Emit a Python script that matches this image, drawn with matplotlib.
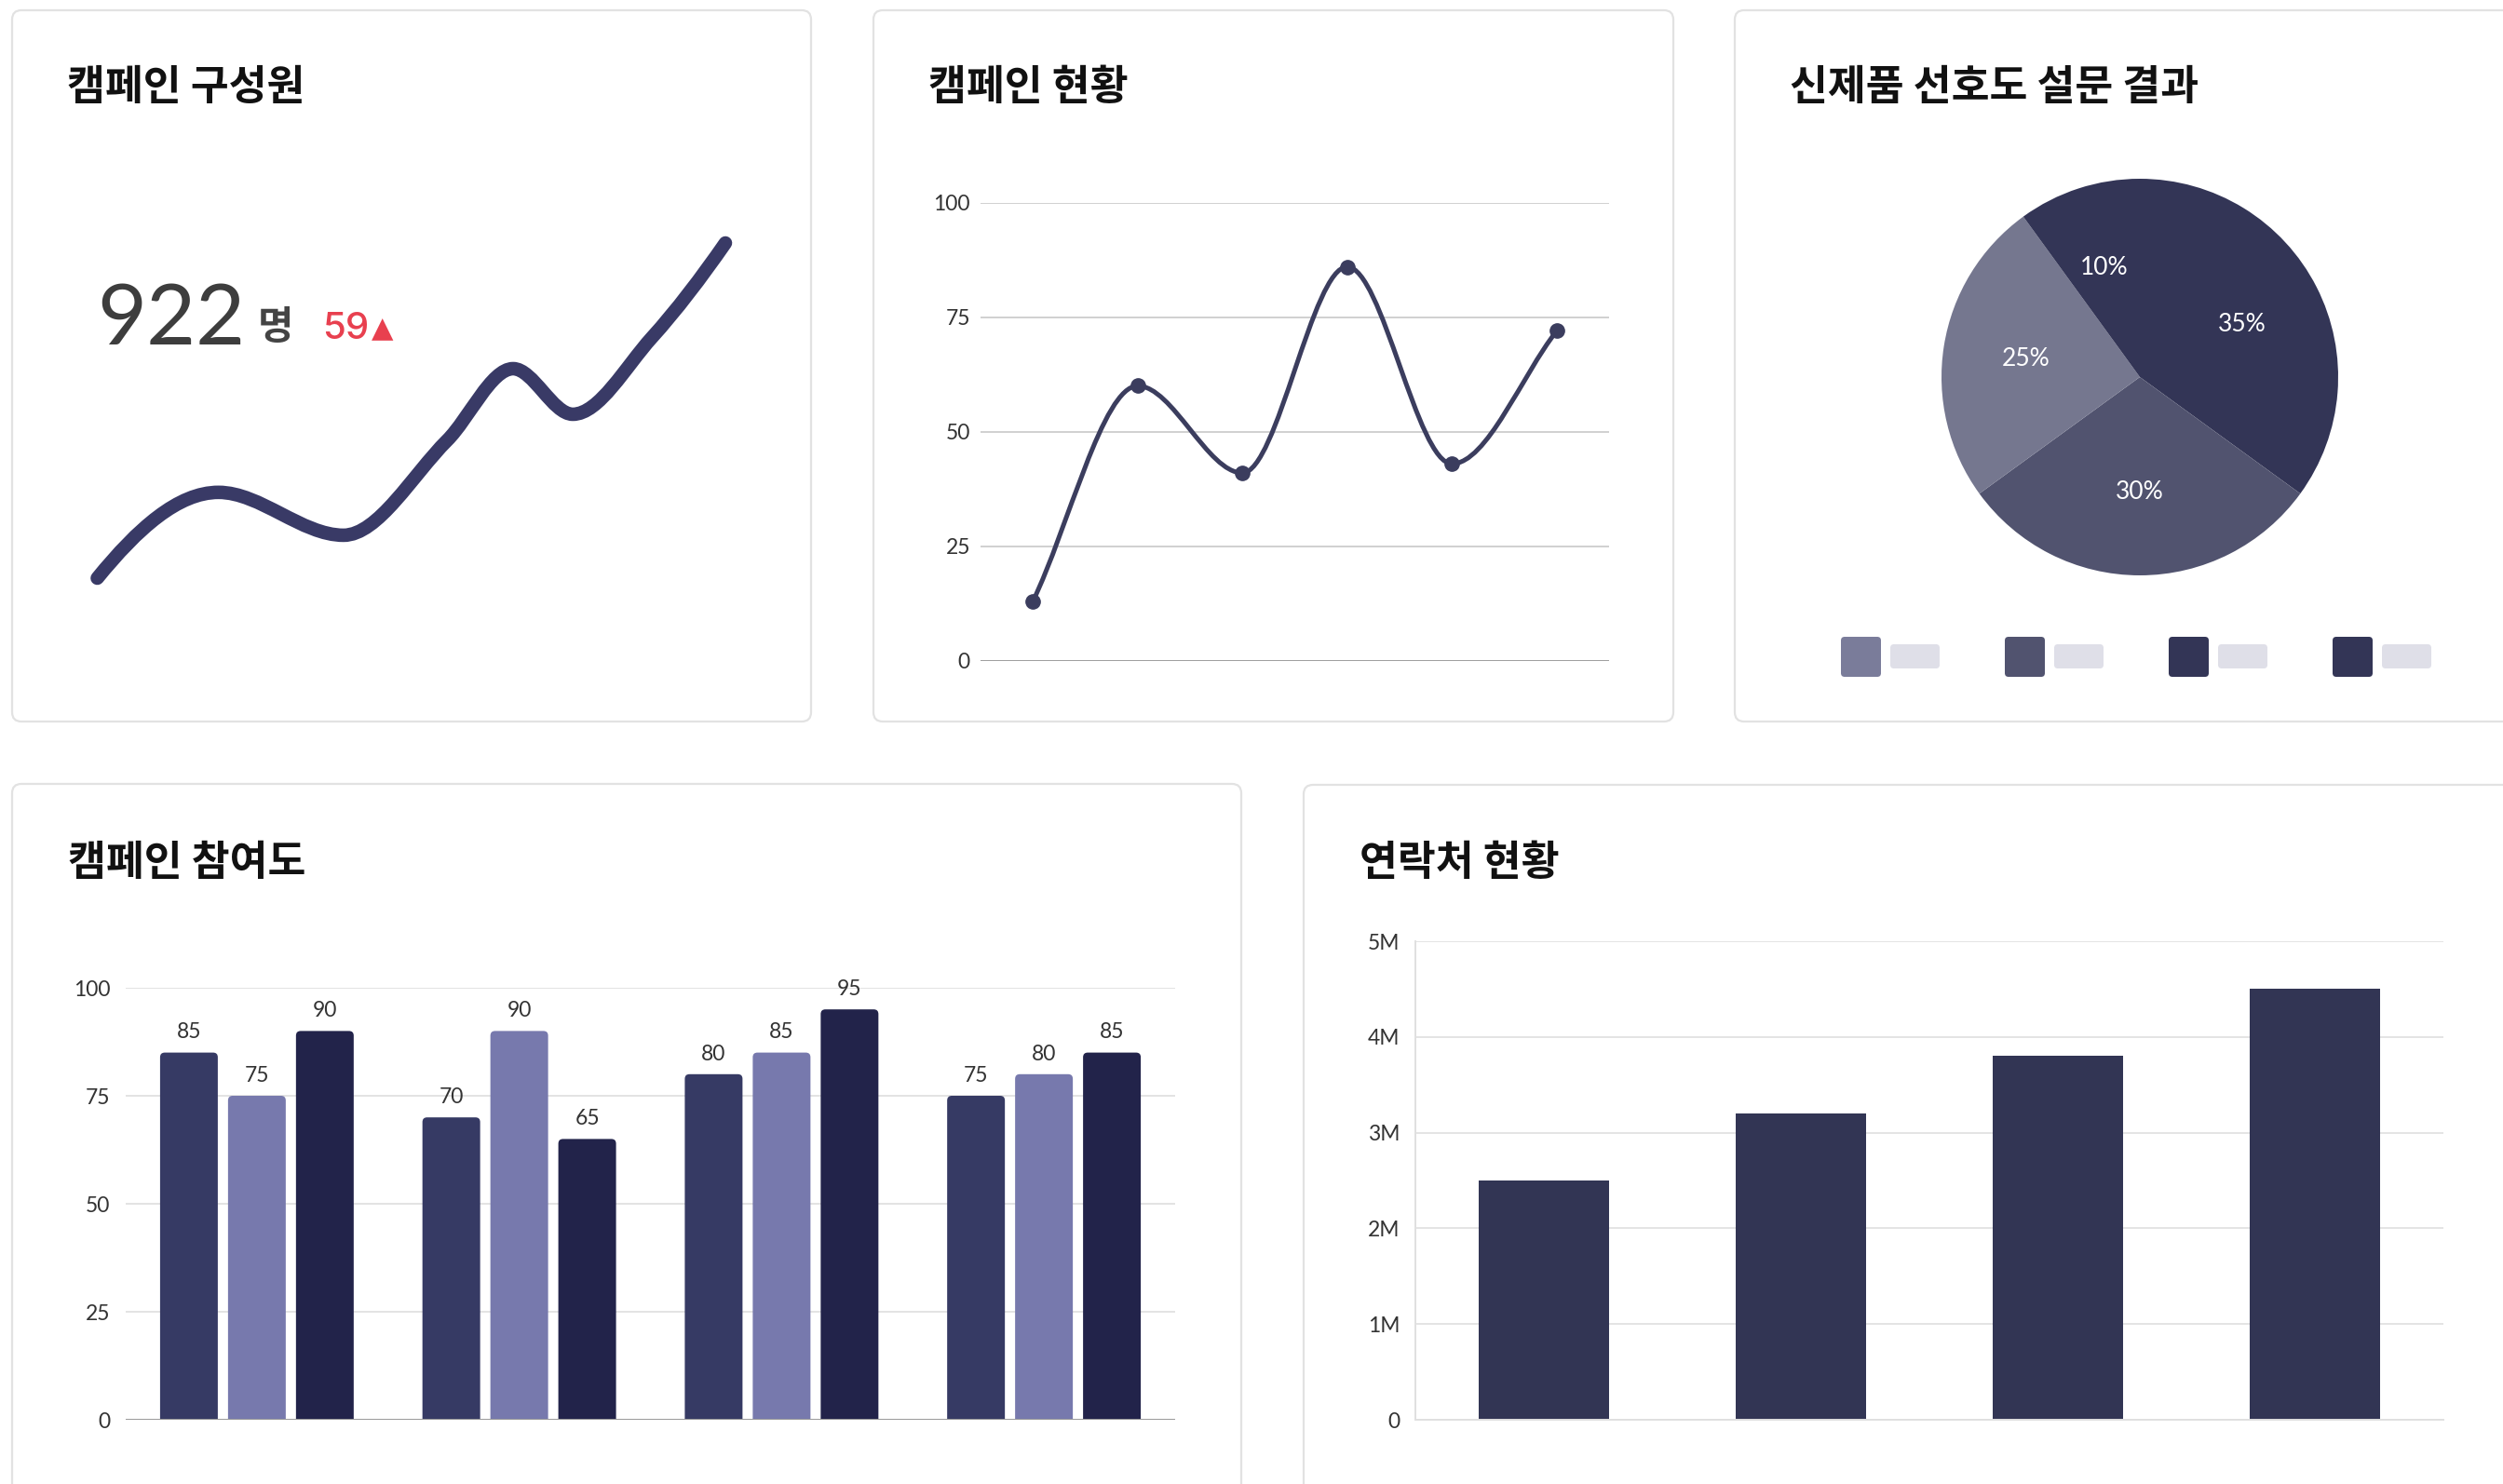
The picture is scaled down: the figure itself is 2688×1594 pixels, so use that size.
import numpy as np
import matplotlib
matplotlib.use("Agg")
import matplotlib.pyplot as plt
from matplotlib.patches import FancyBboxPatch, PathPatch
from matplotlib.path import Path

# ---------------- data ----------------
member_total = 922
member_delta = 59
member_trend_x = [0, 19.3, 39.2, 55.7, 66.2, 75.7, 88.3, 100]
member_trend_y = [0, 25.6, 12.8, 41.1, 62.5, 48.9, 71.8, 100]

status_values = [13, 60, 41, 86, 43, 72]
status_ticks = [0, 25, 50, 75, 100]

survey_shares = [35, 30, 25, 10]
survey_colors = ["#333556", "#51536f", "#75778f", "#333556"]
legend_colors = ["#7a7c9a", "#51536f", "#333556", "#333556"]

participation_series = [
    [85, 70, 80, 75],
    [75, 90, 85, 80],
    [90, 65, 95, 85],
]
participation_colors = ["#363a64", "#7779ad", "#22234a"]
participation_ticks = [0, 25, 50, 75, 100]

contact_values = [2.5e6, 3.2e6, 3.8e6, 4.5e6]
contact_ticks = [0, 1e6, 2e6, 3e6, 4e6, 5e6]
contact_tick_labels = ["0", "1M", "2M", "3M", "4M", "5M"]

titles = ["캠페인 구성원", "캠페인 현황", "신제품 선호도 설문 결과", "캠페인 참여도", "연락처 현황"]

# ---------------- style ----------------
W, H = 2688, 1594
KR = ["Noto Sans CJK KR", "DejaVu Sans"]
NUM = ["Lato", "DejaVu Sans"]
plt.rcParams["font.family"] = NUM
TITLE_SIZE = 32
TICK_SIZE = 16.5
TITLE_COLOR = "#111111"
TICK_COLOR = "#333333"

fig = plt.figure(figsize=(W / 100, H / 100), dpi=100)
fig.patch.set_facecolor("white")


def rect(x0, y0, x1, y1):
    """Axes rectangle from pixel bounds (top-left origin)."""
    return [x0 / W, 1 - y1 / H, (x1 - x0) / W, (y1 - y0) / H]


def hermite_path(x, y, m):
    """Cubic Hermite curve through (x, y) with tangents m, as a Bezier path."""
    h = np.diff(x)
    verts = [(x[0], y[0])]
    codes = [Path.MOVETO]
    for k in range(len(h)):
        verts += [(x[k] + h[k] / 3, y[k] + m[k] * h[k] / 3),
                  (x[k + 1] - h[k] / 3, y[k + 1] - m[k + 1] * h[k] / 3),
                  (x[k + 1], y[k + 1])]
        codes += [Path.CURVE4] * 3
    return Path(verts, codes)


def monotone_path(xs, ys):
    """Fritsch-Carlson monotone cubic with secant end tangents."""
    x = np.asarray(xs, float)
    y = np.asarray(ys, float)
    h = np.diff(x)
    d = np.diff(y) / h
    m = np.zeros_like(y)
    m[0], m[-1] = d[0], d[-1]
    for k in range(1, len(y) - 1):
        m[k] = 0.0 if d[k - 1] * d[k] <= 0 else (d[k - 1] + d[k]) / 2
    for k in range(len(d)):
        if d[k] == 0:
            m[k] = m[k + 1] = 0.0
            continue
        a, b = m[k] / d[k], m[k + 1] / d[k]
        s = a * a + b * b
        if s > 9:
            t = 3 / np.sqrt(s)
            m[k], m[k + 1] = t * a * d[k], t * b * d[k]
    return hermite_path(x, y, m)


def pchip_path(xs, ys):
    """PCHIP curve (weighted harmonic tangents, three-point end tangents)."""
    x = np.asarray(xs, float)
    y = np.asarray(ys, float)
    h = np.diff(x)
    d = np.diff(y) / h
    m = np.zeros_like(y)
    for k in range(1, len(y) - 1):
        if d[k - 1] * d[k] > 0:
            w1 = 2 * h[k] + h[k - 1]
            w2 = h[k] + 2 * h[k - 1]
            m[k] = (w1 + w2) / (w1 / d[k - 1] + w2 / d[k])

    def end(h0, h1, d0, d1):
        v = ((2 * h0 + h1) * d0 - h0 * d1) / (h0 + h1)
        if np.sign(v) != np.sign(d0):
            return 0.0
        if np.sign(d0) != np.sign(d1) and abs(v) > 3 * abs(d0):
            return 3 * d0
        return v

    m[0] = end(h[0], h[1], d[0], d[1])
    m[-1] = end(h[-1], h[-2], d[-1], d[-2])
    return hermite_path(x, y, m)


# background layer with the cards
bg = fig.add_axes([0, 0, 1, 1])
bg.set_xlim(0, W)
bg.set_ylim(H, 0)
bg.axis("off")

cards = [(13, 11, 871, 775), (938, 11, 1797, 775), (1863, 11, 2740, 775),
         (13, 842, 1333, 1640), (1400, 843, 2740, 1640)]
for (x0, y0, x1, y1) in cards:
    bg.add_patch(FancyBboxPatch((x0, y0), x1 - x0, y1 - y0,
                                boxstyle="round,pad=0,rounding_size=10",
                                fc="white", ec="#e2e2e2", lw=1.6))

title_pos = [(72, 94), (997, 94), (1922, 94), (73, 927), (1460, 927)]
for (tx, ty), t in zip(title_pos, titles):
    bg.text(tx, ty, t, family=KR, fontsize=TITLE_SIZE, fontweight="bold",
            color=TITLE_COLOR, ha="left", va="center")

# ---- card 1: member count + trend ----
bg.text(104, 370, f"{member_total}", family=NUM,
        fontsize=66, fontweight="normal", color="#3d3d3d", ha="left", va="baseline")
bg.text(277, 364, "명", family=KR, fontsize=30, fontweight="bold",
        color="#444444", ha="left", va="baseline")
bg.text(346, 364, f"{member_delta}", family=["Inter", "Lato", "DejaVu Sans"],
        fontsize=29, fontweight="medium", color="#e8404f", ha="left", va="baseline")
bg.text(399, 362, "▲", family=["DejaVu Sans"], fontsize=22,
        color="#e8404f", ha="left", va="baseline")

ax1 = fig.add_axes(rect(104.5, 261, 779, 621))
ax1.set_xlim(0, 100)
ax1.set_ylim(0, 100)
ax1.axis("off")
ax1.add_patch(PathPatch(pchip_path(member_trend_x, member_trend_y), fill=False,
                        ec="#393a66", lw=10.5, capstyle="round", joinstyle="round",
                        clip_on=False))

# ---- card 2: campaign status line ----
ax2 = fig.add_axes(rect(1053, 217.7, 1728, 709.7))
xs2 = np.arange(len(status_values))
ax2.set_xlim(-0.5, len(status_values) - 0.5)
ax2.set_ylim(0, 100)
for s in ax2.spines.values():
    s.set_visible(False)
ax2.set_yticks(status_ticks)
ax2.set_xticks([])
ax2.tick_params(axis="y", length=0, pad=8, labelsize=TICK_SIZE, labelcolor=TICK_COLOR)
ax2.grid(axis="y", color="#cdcdcd", lw=1.3)
ax2.axhline(0, color="#9a9a9a", lw=1.3)
ax2.set_axisbelow(True)
ax2.add_patch(PathPatch(monotone_path(xs2, status_values), fill=False,
                        ec="#3b3d5e", lw=3.6, capstyle="round", clip_on=False))
ax2.plot(xs2, status_values, ls="none", marker="o", ms=11, color="#3b3d5e",
         clip_on=False, zorder=5)

# ---- card 3: survey pie ----
ax3 = fig.add_axes(rect(2085, 192, 2511, 618))
ax3.pie(survey_shares, colors=survey_colors, startangle=90, counterclock=False,
        radius=1, autopct=lambda p: f"{p:.0f}%", pctdistance=0.58,
        wedgeprops=dict(linewidth=0),
        textprops=dict(color="white", fontsize=19, fontweight="normal"))
ax3.set_xlim(-1, 1)
ax3.set_ylim(-1, 1)

for i, c in enumerate(legend_colors):
    lx = 1977 + i * 176
    bg.add_patch(FancyBboxPatch((lx, 684), 43, 43, boxstyle="round,pad=0,rounding_size=4",
                                fc=c, ec="none"))
    bg.add_patch(FancyBboxPatch((lx + 53, 692), 53, 26, boxstyle="round,pad=0,rounding_size=4",
                                fc="#dfdfe8", ec="none"))

# ---- card 4: participation grouped bars ----
ax4 = fig.add_axes(rect(135, 1061, 1262, 1525))
n_groups = len(participation_series[0])
ax4.set_xlim(-0.5, n_groups - 0.5)
ax4.set_ylim(0, 100)
for s in ax4.spines.values():
    s.set_visible(False)
ax4.set_yticks(participation_ticks)
ax4.set_xticks([])
ax4.tick_params(axis="y", length=0, pad=12, labelsize=TICK_SIZE, labelcolor=TICK_COLOR)
ax4.grid(axis="y", color="#e0e0e0", lw=1.3)
ax4.set_axisbelow(True)

bar_w, step = 0.22, 0.259
px_x = n_groups / 1127.0
px_y = 100 / 464.0
aspect = px_y / px_x
r_x = 5 * px_x
gx = np.arange(n_groups)
for i, (vals, col) in enumerate(zip(participation_series, participation_colors)):
    pos = gx + (i - 1) * step
    bars = ax4.bar(pos, vals, width=bar_w, color=col)
    for b, v in zip(bars, vals):
        b.set_visible(False)
        ax4.add_patch(FancyBboxPatch((b.get_x(), -2), b.get_width(), b.get_height() + 2,
                                     boxstyle=f"round,pad=0,rounding_size={r_x}",
                                     mutation_aspect=aspect, fc=col, ec="none", zorder=2))
        ax4.annotate(f"{v}", (b.get_x() + b.get_width() / 2, v), xytext=(0, 8),
                     textcoords="offset points", ha="center", va="bottom",
                     fontsize=TICK_SIZE, color=TICK_COLOR)
ax4.axhline(0, color="#9a9a9a", lw=1.4, zorder=3)

# ---- card 5: contacts bars ----
ax5 = fig.add_axes(rect(1520, 1011, 2624, 1525))
ax5.set_xlim(-0.5, len(contact_values) - 0.5)
ax5.set_ylim(0, 5e6)
for k, s in ax5.spines.items():
    s.set_visible(k in ("left", "bottom"))
    s.set_color("#e0e0e0")
    s.set_linewidth(1.4)
ax5.set_yticks(contact_ticks)
ax5.set_yticklabels(contact_tick_labels)
ax5.set_xticks([])
ax5.tick_params(axis="y", length=0, pad=12, labelsize=TICK_SIZE, labelcolor=TICK_COLOR)
ax5.grid(axis="y", color="#e2e2e2", lw=1.3)
ax5.set_axisbelow(True)
ax5.bar(np.arange(len(contact_values)), contact_values, width=0.51, color="#323554", zorder=2)

fig.savefig("out.png", dpi=100, facecolor="white")
